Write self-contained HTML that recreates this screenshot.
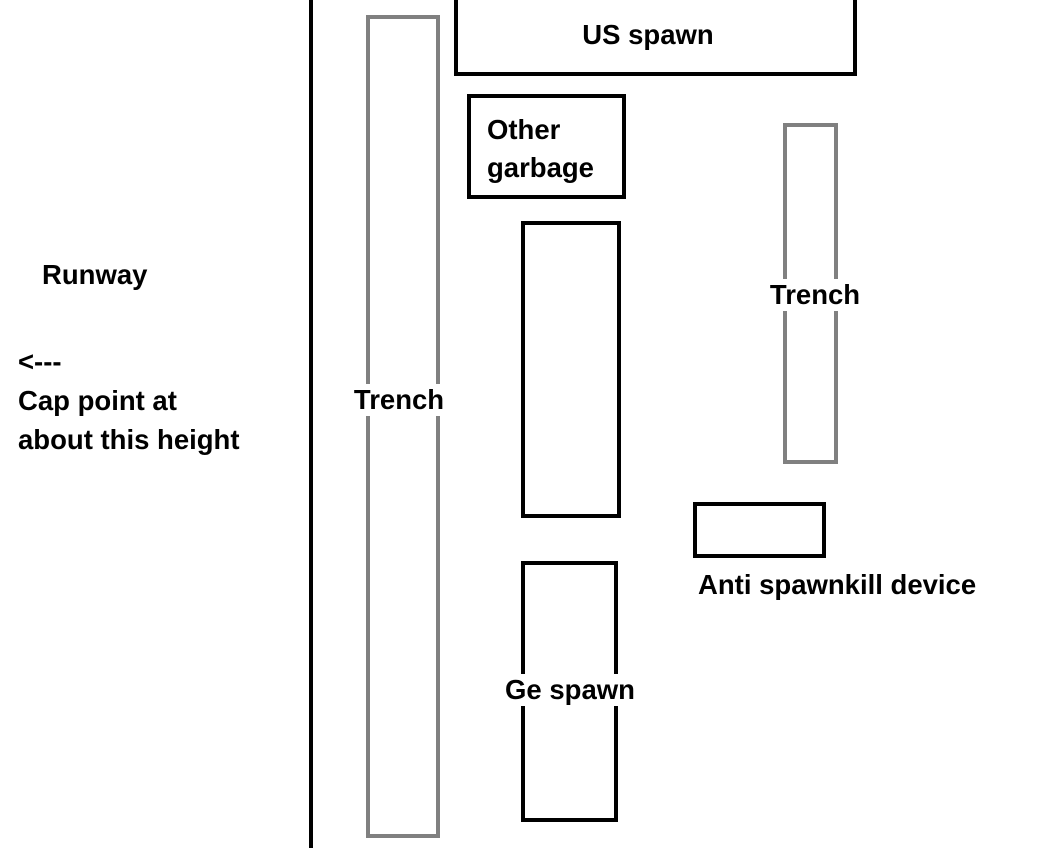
<!DOCTYPE html>
<html><head><meta charset="utf-8"><style>
body{margin:0;width:1055px;height:848px;background:#fff;position:relative;overflow:hidden;font-family:"Liberation Sans",sans-serif;font-weight:bold;font-size:27.5px;color:#000}
.b{position:absolute;box-sizing:border-box;border:4px solid #000}
.g{position:absolute;box-sizing:border-box;border:4px solid #808080}
.t{position:absolute;white-space:nowrap;line-height:28px}
.c{position:absolute;white-space:nowrap;line-height:28px;transform:translate(-50%,-50%);background:#fff;padding:2px 0}
</style></head><body>
<div style="position:absolute;left:309px;top:0;width:4px;height:848px;background:#000"></div>
<div class="g" style="left:366px;top:15px;width:74px;height:823px"></div>
<div class="c" style="left:399px;top:400px">Trench</div>
<div class="b" style="left:454px;top:-4px;width:403px;height:80px"></div>
<div class="c" style="left:648px;top:35px;background:none">US spawn</div>
<div class="b" style="left:467px;top:94px;width:159px;height:105px"></div>
<div class="t" style="left:487px;top:116px">Other</div>
<div class="t" style="left:487px;top:154px">garbage</div>
<div class="b" style="left:521px;top:221px;width:100px;height:297px"></div>
<div class="b" style="left:521px;top:561px;width:97px;height:261px"></div>
<div class="c" style="left:570px;top:690px">Ge spawn</div>
<div class="g" style="left:783px;top:123px;width:55px;height:341px"></div>
<div class="c" style="left:815px;top:295px">Trench</div>
<div class="b" style="left:693px;top:502px;width:133px;height:56px"></div>
<div class="t" style="left:698px;top:571px">Anti spawnkill device</div>
<div class="t" style="left:42px;top:261px">Runway</div>
<div class="t" style="left:18px;top:348px">&lt;---</div>
<div class="t" style="left:18px;top:387px">Cap point at</div>
<div class="t" style="left:18px;top:426px">about this height</div>
</body></html>
